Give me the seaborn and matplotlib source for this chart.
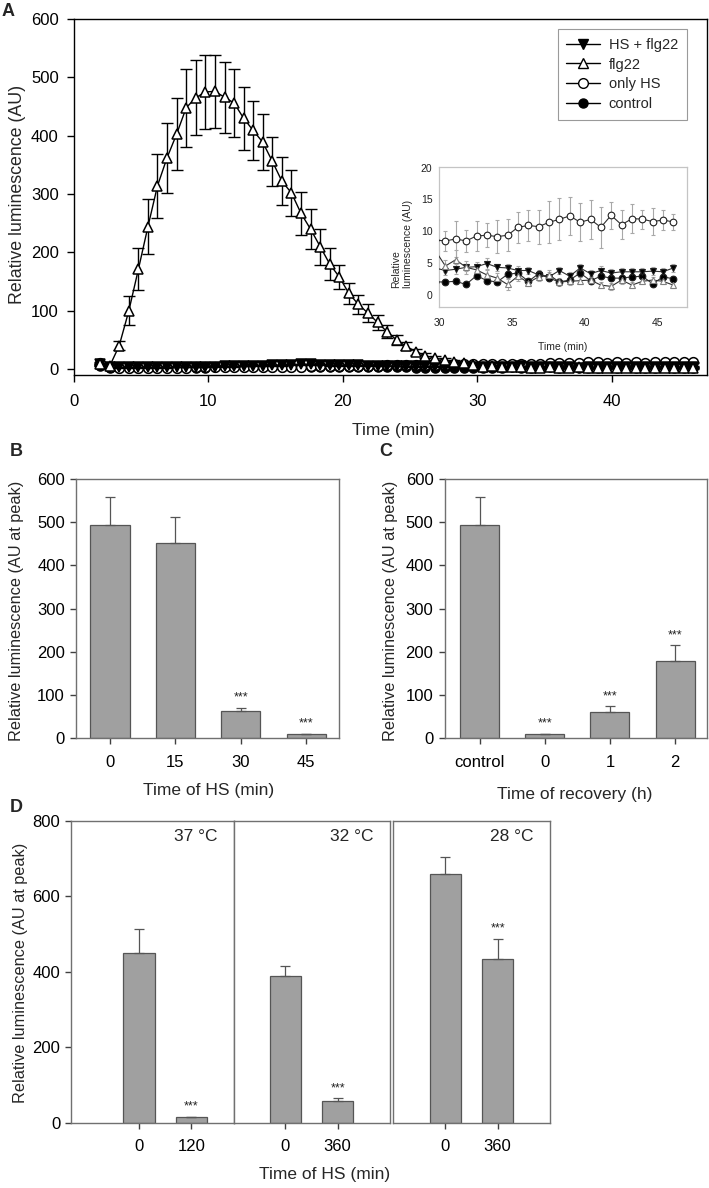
import numpy as np
import pandas as pd
import matplotlib
matplotlib.use("Agg")
import matplotlib.pyplot as plt
from matplotlib.lines import Line2D
import seaborn as sns

# ---- panel A: kinetics (time in min) ----
time_min = [1.94, 2.65, 3.36, 4.08, 4.79, 5.5, 6.21, 6.92, 7.64, 8.35,
            9.06, 9.77, 10.48, 11.2, 11.91, 12.62, 13.33, 14.04, 14.76, 15.47,
            16.18, 16.89, 17.6, 18.32, 19.03, 19.74, 20.45, 21.16, 21.88, 22.59,
            23.3, 24.01, 24.72, 25.44, 26.15, 26.86, 27.57, 28.28, 29.0, 29.71,
            30.42, 31.13, 31.84, 32.56, 33.27, 33.98, 34.69, 35.4, 36.12, 36.83,
            37.54, 38.25, 38.96, 39.68, 40.39, 41.1, 41.81, 42.52, 43.24, 43.95,
            44.66, 45.37, 46.08]

flg22 = [8, 5, 40, 100, 171, 244, 314, 362, 403, 448,
         465, 475, 476, 466, 456, 430, 409, 389, 356, 322,
         302, 267, 240, 210, 180, 158, 130, 111, 96, 80,
         64, 50, 39, 30, 23, 19, 16, 13, 10, 7,
         4.5, 5.5, 4.3, 3.9, 3.1, 2.6, 1.6, 2.9, 1.9, 2.8,
         3.1, 2.0, 2.1, 2.2, 2.3, 1.5, 1.3, 2.3, 1.5, 2.1,
         2.3, 2.1, 1.5]
flg22_err = [2, 2, 8, 25, 36, 47, 55, 60, 62, 67,
             64, 63, 63, 61, 58, 54, 51, 48, 42, 41,
             40, 37, 34, 31, 27, 20, 18, 16, 15, 13,
             11, 9, 7, 5, 4, 3, 3, 2, 2, 1.5,
             1.0, 1.5, 1.0, 0.8, 0.8, 0.8, 0.8, 0.8, 0.6, 0.6,
             0.8, 0.6, 0.6, 0.6, 0.6, 0.5, 0.5, 0.6, 0.5, 0.5,
             0.5, 0.5, 0.5]

hs_flg22 = [8, 3, 3, 3, 3, 3, 3, 3, 3.5, 3.5,
            4, 4, 4.5, 5, 5, 5.5, 6, 6, 6.5, 7,
            7.5, 8, 8, 7.5, 7, 7, 6.5, 6.5, 6, 6,
            5.5, 5.5, 5, 5, 5, 5, 4.5, 4.5, 4.5, 4.2,
            3.8, 4.0, 4.3, 4.4, 4.9, 4.3, 4.2, 3.8, 3.8, 3.1,
            2.8, 3.8, 2.9, 4.2, 3.3, 3.8, 3.4, 3.6, 3.6, 3.6,
            3.7, 3.6, 4.2]
hs_flg22_err = [1, 0.5, 0.5, 0.5, 0.5, 0.5, 0.5, 0.5, 0.5, 0.5,
                0.5, 0.5, 0.5, 0.6, 0.6, 0.6, 0.7, 0.7, 0.7, 0.8,
                0.8, 0.8, 0.8, 0.8, 0.8, 0.8, 0.7, 0.7, 0.7, 0.7,
                0.7, 0.7, 0.6, 0.6, 0.6, 0.6, 0.6, 0.6, 0.6, 0.6,
                0.7, 0.8, 0.6, 0.7, 0.8, 0.6, 0.6, 0.7, 0.6, 0.6,
                0.7, 0.6, 0.6, 0.7, 0.6, 0.7, 0.6, 0.6, 0.6, 0.6,
                0.6, 0.6, 0.6]

only_hs = [10, 4, 2, 2, 2, 2, 2, 2.5, 2.5, 2.5,
           3, 3, 3, 3.5, 3.5, 3.5, 4, 4, 4, 4.5,
           4.5, 4.5, 5, 5, 5, 5.5, 5.5, 5.5, 6, 6,
           6.5, 6.5, 7, 7, 7, 7.5, 7.5, 8, 8, 8.6,
           8.46, 8.77, 8.46, 9.24, 9.35, 9.14, 9.35, 10.6, 10.9, 10.7,
           11.4, 11.85, 12.4, 11.4, 11.85, 10.6, 12.5, 11.0, 11.96, 11.9,
           11.5, 11.75, 11.45]
only_hs_err = [1.5, 1, 0.8, 0.8, 0.8, 0.8, 0.8, 0.8, 0.8, 0.8,
               0.9, 0.9, 0.9, 1, 1, 1, 1, 1, 1, 1.2,
               1.2, 1.2, 1.3, 1.3, 1.3, 1.4, 1.4, 1.4, 1.5, 1.5,
               1.5, 1.5, 1.6, 1.6, 1.6, 1.6, 1.6, 1.6, 1.6, 1.6,
               1.6, 2.8, 1.7, 2.4, 1.9, 2.6, 2.5, 2.4, 2.5, 2.7,
               3.3, 3.3, 3.0, 3.0, 3.1, 3.2, 2.1, 2.3, 2.3, 1.5,
               2.1, 1.6, 1.3]

control = [6, 2, 2, 2, 2.5, 2, 2, 2.5, 2, 2.5,
           2.5, 2.5, 3, 3, 3, 3, 3, 3.5, 3.5, 3.5,
           3.5, 3.5, 3.5, 3, 3, 3, 3, 3, 3, 3,
           3, 3, 3, 2.5, 2.5, 2.5, 2.5, 2.5, 2.5, 2.0,
           2.0, 2.1, 1.6, 3.0, 2.2, 2.0, 3.2, 3.4, 2.1, 3.3,
           2.6, 2.0, 2.3, 3.4, 2.2, 2.9, 2.6, 2.6, 2.8, 2.9,
           1.7, 2.8, 2.5]
control_err = [1, 0.4, 0.4, 0.4, 0.4, 0.4, 0.4, 0.4, 0.4, 0.4,
               0.5, 0.5, 0.5, 0.5, 0.5, 0.5, 0.5, 0.5, 0.5, 0.5,
               0.5, 0.5, 0.5, 0.5, 0.5, 0.5, 0.5, 0.5, 0.5, 0.5,
               0.5, 0.5, 0.5, 0.5, 0.5, 0.5, 0.5, 0.5, 0.5, 0.5,
               0.4, 0.4, 0.4, 0.6, 0.5, 0.4, 0.6, 0.6, 0.4, 0.6,
               0.5, 0.4, 0.5, 0.6, 0.4, 0.5, 0.5, 0.5, 0.5, 0.5,
               0.4, 0.5, 0.5]

# ---- panel B: duration of HS ----
b_labels = ["0", "15", "30", "45"]
b_values = [493, 453, 64, 9]
b_err = [65, 60, 6, 2]
b_sig = ["", "", "***", "***"]

# ---- panel C: recovery after HS ----
c_labels = ["control", "0", "1", "2"]
c_values = [493, 9, 61, 178]
c_err = [65, 2, 13, 37]
c_sig = ["", "***", "***", "***"]

# ---- panel D: temperatures ----
d_temps = ["37 °C", "32 °C", "28 °C"]
d_labels = [["0", "120"], ["0", "360"], ["0", "360"]]
d_values = [[449, 14], [390, 57], [660, 433]]
d_err = [[65, 2], [25, 8], [45, 55]]
d_sig = [["", "***"], ["", "***"], ["", "***"]]

W, H = 709, 1188
NARROW = ["Liberation Sans Narrow", "Liberation Sans", "DejaVu Sans"]
REGULAR = ["Liberation Sans", "DejaVu Sans"]
BAR = "#a0a0a0"
EDGE = "#555555"
FRAME = "#707070"

sns.set_style("ticks")
plt.rcParams["font.family"] = REGULAR

fig = plt.figure(figsize=(W / 100, H / 100), dpi=100)


def px_axes(left, top, right, bottom):
    return fig.add_axes([left / W, 1 - bottom / H, (right - left) / W, (bottom - top) / H])


def px_text(x, y, s, **kw):
    fig.text(x / W, 1 - y / H, s, **kw)


def narrow_ticks(ax, size):
    for lab in ax.get_xticklabels() + ax.get_yticklabels():
        lab.set_family(NARROW)
        lab.set_fontsize(size)


# ================= A =================
axA = px_axes(74, 19, 707, 375)
series = [
    ("control", control, control_err, "o", "black", 6.5),
    ("only HS", only_hs, only_hs_err, "o", "white", 7),
    ("HS + flg22", hs_flg22, hs_flg22_err, "v", "black", 6.5),
    ("flg22", flg22, flg22_err, "^", "white", 7),
]
for k, (name, vals, errs, m, fc, ms) in enumerate(series):
    axA.errorbar(time_min, vals, yerr=errs, fmt="none", ecolor="black",
                 elinewidth=1, capsize=4, capthick=1, zorder=2 + k)
    sns.lineplot(x=time_min, y=vals, ax=axA, color="black", lw=1, marker=m,
                 markersize=ms, markerfacecolor=fc, markeredgecolor="black",
                 markeredgewidth=1.1, zorder=3 + k)
axA.set_xlim(0, 47.1)
axA.set_ylim(-10, 600)
axA.set_xticks([0, 10, 20, 30, 40])
axA.set_yticks([0, 100, 200, 300, 400, 500, 600])
axA.set_xlabel("")
axA.set_ylabel("")
for s in axA.spines.values():
    s.set_color("black")
    s.set_linewidth(1)
axA.tick_params(direction="out", length=5, width=1, colors="black")
axA.tick_params(axis="x", pad=9)
axA.tick_params(axis="y", pad=6)
narrow_ticks(axA, 12)

handles = [Line2D([0], [0], color="black", lw=1, marker=m, markersize=ms,
                  markerfacecolor=fc, markeredgecolor="black")
           for name, vals, errs, m, fc, ms in [series[2], series[3], series[1], series[0]]]
leg = axA.legend(handles, ["HS + flg22", "flg22", "only HS", "control"],
                 loc="upper right", bbox_to_anchor=(0.968, 0.972), borderaxespad=0,
                 frameon=True, fancybox=False, framealpha=1, edgecolor="#9a9a9a",
                 fontsize=10.5, handlelength=2.3, labelspacing=0.4, borderpad=0.6,
                 handletextpad=0.6)
leg.get_frame().set_linewidth(0.8)

# inset
axI = px_axes(439.3, 167, 686.7, 306.7)
for k, (name, vals, errs, m, fc, ms) in enumerate(series):
    ec = "#808080" if name == "flg22" else "#202020"
    axI.errorbar(time_min, vals, yerr=errs, fmt="none", ecolor="#a8a8a8",
                 elinewidth=0.8, capsize=1.5, capthick=0.8, zorder=2)
    sns.lineplot(x=time_min, y=vals, ax=axI, color="#303030", lw=0.8, marker=m,
                 markersize=4.8, markerfacecolor=fc, markeredgecolor=ec,
                 markeredgewidth=0.8, zorder=3 + k)
axI.set_xlim(30, 47)
axI.set_ylim(-1.9, 20.1)
axI.set_xticks([30, 35, 40, 45])
axI.set_yticks([0, 5, 10, 15, 20])
axI.set_xlabel("")
axI.set_ylabel("")
for s in axI.spines.values():
    s.set_color("#c4c4c4")
    s.set_linewidth(0.9)
axI.tick_params(length=0, labelsize=7.5, colors="#202020")
axI.tick_params(axis="x", pad=8)
axI.tick_params(axis="y", pad=5)
px_text(563, 347, "Time (min)", ha="center", va="center", fontsize=7.5)
px_text(402, 288, "Relative\nluminescence (AU)", rotation=90, ha="center",
        va="bottom", multialignment="left", fontsize=7.5)

px_text(8, 12, "A", ha="center", va="center", fontsize=13, fontweight="bold", family=NARROW)
px_text(18, 194, "Relative luminescence (AU)", rotation=90, ha="center", va="center", fontsize=12.8)
px_text(393, 431, "Time (min)", ha="center", va="center", fontsize=12.5, family=NARROW)


# ================= bar panels =================
def bar_panel(ax, labels, values, errs, sig, xlim, ylim, yticks, show_y=True):
    sns.barplot(x=labels, y=values, order=labels, color=BAR, saturation=1,
                width=0.6, edgecolor=EDGE, linewidth=0.9, errorbar=None, ax=ax, zorder=2)
    pos = np.arange(len(values))
    ax.errorbar(pos, values, yerr=[np.zeros(len(values)), errs], fmt="none",
                ecolor=EDGE, elinewidth=0.9, capsize=3.3, capthick=0.9, zorder=3)
    for i, s in enumerate(sig):
        if s:
            ax.annotate(s, (pos[i], values[i] + errs[i]), xytext=(0, 3),
                        textcoords="offset points", ha="center", va="bottom",
                        fontsize=9, color="#222222")
    ax.set_xlim(*xlim)
    ax.set_ylim(*ylim)
    ax.set_yticks(yticks)
    ax.set_xlabel("")
    ax.set_ylabel("")
    for s in ax.spines.values():
        s.set_color(FRAME)
        s.set_linewidth(1)
    ax.tick_params(direction="out", length=4, width=1, colors="#404040",
                   labelcolor="black")
    ax.tick_params(axis="x", pad=8)
    ax.tick_params(axis="y", pad=4)
    if not show_y:
        ax.tick_params(axis="y", left=False, labelleft=False)
    narrow_ticks(ax, 12)


axB = px_axes(76, 479, 339, 738.3)
bar_panel(axB, b_labels, b_values, b_err, b_sig, (-0.52, 3.5), (0, 600),
          [0, 100, 200, 300, 400, 500, 600])
axC = px_axes(444.5, 479, 707, 738.3)
bar_panel(axC, c_labels, c_values, c_err, c_sig, (-0.54, 3.49), (0, 600),
          [0, 100, 200, 300, 400, 500, 600])

px_text(16, 452, "B", ha="center", va="center", fontsize=13, fontweight="bold", family=NARROW)
px_text(386, 452, "C", ha="center", va="center", fontsize=13, fontweight="bold", family=NARROW)
px_text(17, 611, "Relative luminescence (AU at peak)", rotation=90, ha="center", va="center", fontsize=11.7)
px_text(391, 611, "Relative luminescence (AU at peak)", rotation=90, ha="center", va="center", fontsize=11.7)
px_text(209, 791, "Time of HS (min)", ha="center", va="center", fontsize=12.5, family=NARROW)
px_text(575, 794, "Time of recovery (h)", ha="center", va="center", fontsize=12.5, family=NARROW)

# ================= D =================
d_boxes = [(71.4, 234), (234, 390), (393, 550)]
d_xlims = [(-1.28, 1.81), (-0.98, 2.0), (-1.0, 2.0)]
for j in range(3):
    ax = px_axes(d_boxes[j][0], 821, d_boxes[j][1], 1122.7)
    bar_panel(ax, d_labels[j], d_values[j], d_err[j], d_sig[j], d_xlims[j], (0, 800),
              [0, 200, 400, 600, 800], show_y=(j == 0))
    ax.annotate(d_temps[j], (1, 1), xycoords="axes fraction", xytext=(-12, -11),
                textcoords="offset points", ha="right", va="center",
                fontsize=12.5, family=NARROW)

px_text(16, 808, "D", ha="center", va="center", fontsize=13, fontweight="bold", family=NARROW)
px_text(21, 973, "Relative luminescence (AU at peak)", rotation=90, ha="center", va="center", fontsize=11.7)
px_text(325, 1175, "Time of HS (min)", ha="center", va="center", fontsize=12.5, family=NARROW)

fig.savefig("out.png", dpi=100)
